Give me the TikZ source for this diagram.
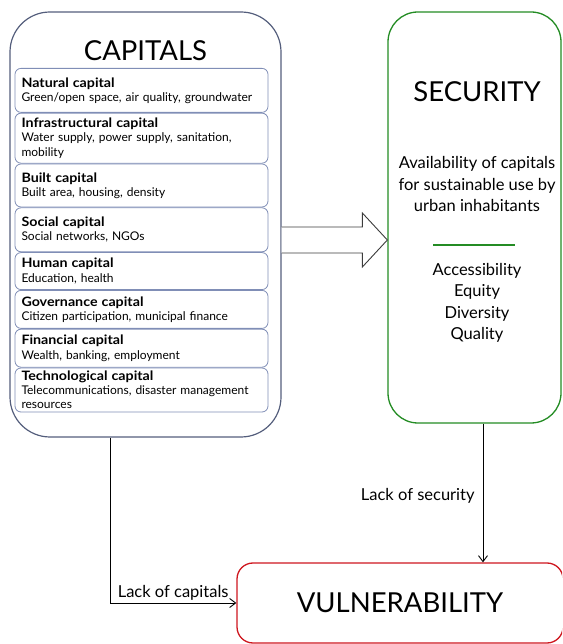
\documentclass[tikz,border=0pt]{standalone}
\usepackage{fontspec}
\setmainfont{Lato}
\newfontfamily\headfont{Lato}[FakeStretch=1.1,Scale=1.08]
\usetikzlibrary{arrows.meta,positioning,calc}
\definecolor{capslate}{RGB}{84,94,124}
\definecolor{itemslate}{RGB}{128,142,182}
\definecolor{secgreen}{RGB}{36,140,36}
\definecolor{vulnred}{RGB}{206,22,30}
\definecolor{arrowgray}{RGB}{60,60,60}
\begin{document}
\begin{tikzpicture}[
  x=1pt,y=1pt,>=Straight Barb,
  conn/.style={-{Straight Barb[length=6pt,width=9pt]},draw=black,line width=0.9pt},
  capbox/.style={draw=capslate,line width=1.2pt,rounded corners=40pt,
                 minimum width=271pt,minimum height=425pt},
  secbox/.style={draw=secgreen,line width=1.3pt,rounded corners=30pt,
                 minimum width=173pt,minimum height=411pt},
  vulnbox/.style={draw=vulnred,line width=1.3pt,rounded corners=16pt,
                  minimum width=326pt,minimum height=80pt},
  item/.style={draw=itemslate,line width=0.8pt,rounded corners=6pt,text width=240pt,
               inner xsep=6.5pt,inner ysep=0.5pt,align=left,anchor=north,
               font=\fontsize{12}{14.2}\selectfont},
  bigtitle/.style={font=\fontsize{27.5}{32}\selectfont},
  body/.style={align=center,font=\fontsize{16.5}{21.5}\selectfont},
  lbl/.style={font=\fontsize{16.5}{18}\selectfont,inner sep=2pt}
]
\useasboundingbox (0,0) rectangle (562,644);
\clip (0,0) rectangle (562,644);
% ---------- capitals
\node[capbox] (cap) at (145.5,419.5) {};
\node[bigtitle] (captitle) at (145.5,593) {CAPITALS};
\node[item,minimum height=44pt] (natural) at (141.5,576)
  {{\headfont\bfseries Natural capital}\\Green/open space, air quality, groundwater};
\node[item,minimum height=50pt,below=0pt of natural] (infra)
  {{\headfont\bfseries Infrastructural capital}\\Water supply, power supply, sanitation,\\mobility};
\node[item,minimum height=43pt,below=0pt of infra] (built)
  {{\headfont\bfseries Built capital}\\Built area, housing, density};
\node[item,minimum height=44pt,below=0pt of built] (social)
  {{\headfont\bfseries Social capital}\\Social networks, NGOs};
\node[item,minimum height=37pt,below=0pt of social] (human)
  {{\headfont\bfseries Human capital}\\Education, health};
\node[item,minimum height=38pt,below=0pt of human] (govern)
  {{\headfont\bfseries Governance capital}\\Citizen participation, municipal finance};
\node[item,minimum height=38pt,below=0pt of govern] (finance)
  {{\headfont\bfseries Financial capital}\\Wealth, banking, employment};
\node[item,minimum height=44pt,below=0pt of finance] (techno)
  {{\headfont\bfseries Technological capital}\\Telecommunications, disaster management\\resources};
% ---------- security
\node[secbox] (sec) at (474.5,426.5) {};
\node[bigtitle] (sectitle) at (477,552) {SECURITY};
\node[body] (secdesc) at (477,460) {Availability of capitals\\for sustainable use by\\urban inhabitants};
\draw[secgreen,line width=1.3pt] (433,399) -- (515,399);
\node[body] (seccrit) at (477,341) {Accessibility\\Equity\\Diversity\\Quality};
% ---------- vulnerability
\node[vulnbox] (vuln) at (400,41) {};
\node[bigtitle] (vulntitle) at (vuln.center) {VULNERABILITY};
% ---------- arrows
\coordinate (flow) at (0,404);
\draw[arrowgray,fill=white,line width=0.9pt]
  (cap.east |- flow) ++(0,13) -- ($(sec.west |- flow)+(-25,13)$) -- ($(sec.west |- flow)+(-25,27)$)
  -- (sec.west |- flow) -- ($(sec.west |- flow)+(-25,-27)$) -- ($(sec.west |- flow)+(-25,-13)$)
  -- ($(cap.east |- flow)+(0,-13)$);
\draw[conn] ([xshift=8.5pt]sec.south) -- ([xshift=8.5pt]sec.south |- vuln.north)
  node[lbl,midway,left,xshift=-6pt,yshift=-3pt] {Lack of security};
\draw[conn] ([xshift=-35.5pt]cap.south) |- (vuln.west)
  node[lbl,pos=0.75,above] {Lack of capitals};
\end{tikzpicture}
\end{document}
